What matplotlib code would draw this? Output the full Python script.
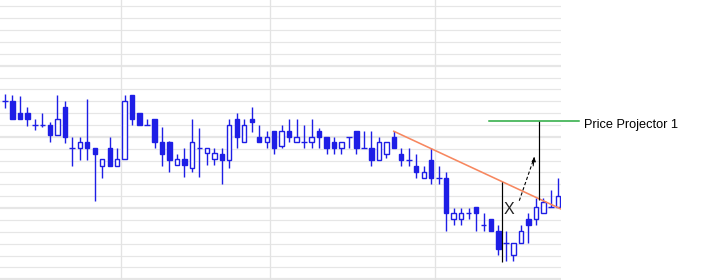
import numpy as np
import matplotlib
matplotlib.use("Agg")
import matplotlib.pyplot as plt

# price data (one grid step = 1 unit)
opens = [15.02, 15.02, 14.01, 14.01, 12.97, 12.97, 13.00, 12.13, 14.52, 11.06,
         11.04, 11.54, 11.06, 9.57, 11.06, 9.57, 10.11, 15.53, 14.01, 12.97,
         13.50, 11.54, 11.54, 9.60, 10.11, 9.35, 11.06, 10.61, 10.11, 10.56,
         10.03, 13.50, 11.54, 13.50, 11.96, 11.54, 12.47, 11.20, 12.47, 11.54,
         11.54, 11.54, 12.47, 11.96, 11.54, 11.04, 11.96, 12.47, 11.04, 11.04,
         10.03, 10.53, 11.96, 10.53, 10.03, 9.52, 8.51, 10.03, 8.51, 8.51,
         5.08, 5.08, 5.56, 6.07, 4.57, 5.08, 4.07, 3.06, 2.05, 3.06,
         5.08, 5.08, 5.59, 6.09, 6.09]
highs = [15.61, 15.53, 15.44, 14.52, 13.50, 14.01, 13.25, 15.53, 15.02, 11.99,
         11.99, 15.19, 11.06, 10.11, 11.99, 11.06, 15.53, 15.53, 14.01, 13.50,
         13.50, 12.83, 11.63, 10.58, 11.06, 13.50, 12.75, 11.06, 11.06, 11.06,
         13.50, 14.01, 13.50, 14.52, 13.00, 12.49, 12.49, 13.00, 13.50, 13.50,
         13.00, 13.50, 12.75, 11.96, 11.96, 11.54, 11.96, 12.47, 12.47, 12.47,
         11.96, 11.54, 12.47, 11.04, 11.04, 10.53, 9.52, 11.04, 9.52, 9.01,
         5.98, 5.98, 5.98, 6.07, 5.56, 5.08, 4.57, 4.07, 3.06, 4.57,
         5.59, 6.82, 6.82, 7.50, 8.51]
lows = [14.46, 13.48, 13.48, 12.94, 12.60, 12.81, 11.59, 12.13, 11.51, 9.57,
        10.08, 10.08, 6.62, 8.56, 9.57, 9.57, 10.11, 12.97, 12.97, 12.97,
        11.04, 9.57, 9.06, 9.60, 8.59, 9.06, 8.59, 9.60, 9.60, 8.05,
        9.40, 11.09, 11.54, 12.43, 11.54, 11.04, 10.53, 11.04, 11.54, 11.54,
        11.04, 11.04, 11.04, 10.53, 10.53, 10.53, 11.04, 10.53, 11.04, 9.52,
        10.03, 10.24, 11.04, 9.52, 9.52, 8.51, 8.51, 8.00, 8.00, 4.07,
        4.57, 4.57, 5.08, 4.07, 4.07, 4.07, 2.05, 1.54, 1.54, 3.06,
        3.06, 4.57, 5.59, 6.09, 6.09]
closes = [15.02, 13.48, 13.48, 13.48, 12.97, 12.97, 12.13, 13.50, 11.96, 11.06,
          11.54, 11.04, 10.58, 10.11, 9.57, 10.11, 15.02, 13.48, 12.97, 12.97,
          11.54, 10.58, 10.08, 10.11, 9.60, 11.54, 11.06, 11.06, 10.61, 10.03,
          12.97, 11.96, 12.97, 13.28, 11.54, 11.96, 11.04, 12.47, 11.96, 11.96,
          11.54, 11.96, 11.96, 11.04, 11.04, 11.54, 11.96, 11.04, 11.04, 10.03,
          11.54, 11.54, 11.04, 10.03, 10.03, 9.01, 9.01, 8.51, 8.51, 5.56,
          5.56, 5.56, 5.56, 5.56, 4.57, 4.07, 2.55, 3.06, 3.06, 4.07,
          4.57, 6.09, 6.49, 6.09, 6.99]

month_breaks = [15.5, 35.5, 57.5]

# drawing tools
trend_x = [52, 74.36]
trend_y = [12.47, 5.92]
proj_x = [66.51, 71.46]
proj_lo = [1.48, 6.68]
proj_hi = [8.17, 13.31]
target_x = [64.73, 76.77]
target_y = 13.31
arrow_from = (68.78, 6.62)
arrow_to = (70.79, 10.28)
x_mark = (67.45, 5.84)
label = "Price Projector 1"

blue = "#1e1ee6"
px = 0.72  # one pixel in points at dpi 100

fig = plt.figure(figsize=(7.01, 2.8), dpi=100)
ax = fig.add_axes([0, 0, 561 / 701, 1])
ax.set_xlim(-0.669, 74.36)
ax.set_ylim(-0.06, 23.53)
ax.axis("off")

# grid
for g in range(0, 24):
    lw = 2.2 * px if g % 6 == 0 else 1.2 * px
    ax.axhline(g, color="#e6e6e6", lw=lw, zorder=0)
for b in month_breaks:
    ax.axvline(b, color="#e3e3e3", lw=1.3 * px, zorder=0)

o = np.array(opens)
h = np.array(highs)
l = np.array(lows)
c = np.array(closes)
x = np.arange(len(o))

# wicks
ax.vlines(x, l, h, color=blue, lw=1.4 * px, zorder=2)

# bodies
w = 0.58
up = c > o
down = c < o
flat = c == o
ax.bar(x[up], (c - o)[up], bottom=o[up], width=w, facecolor="white",
       edgecolor=blue, lw=1.4 * px, zorder=3)
ax.bar(x[down], (o - c)[down], bottom=c[down], width=w, facecolor=blue,
       edgecolor=blue, lw=1.4 * px, zorder=3)
ax.hlines(o[flat], x[flat] - 0.38, x[flat] + 0.38, color=blue, lw=1.4 * px, zorder=3)

# trendline and projector
ax.plot(trend_x, trend_y, color="#f7875f", lw=1.6 * px, zorder=4)
ax.vlines(proj_x, proj_lo, proj_hi, color="black", lw=1.2 * px, zorder=5)
ax.plot(target_x, [target_y, target_y], color="#22a83a", lw=1.5 * px,
        zorder=5, clip_on=False)
ax.text(77.43, 12.72, label, fontsize=9.2, family="Liberation Sans",
        va="baseline", ha="left", color="black", clip_on=False)

ax.plot([arrow_from[0], arrow_to[0]], [arrow_from[1], arrow_to[1]],
        color="black", lw=1.1 * px, ls=(0, (3, 2)), zorder=5)
ax.annotate("", xy=arrow_to,
            xytext=(arrow_to[0] - 0.15, arrow_to[1] - 0.73),
            arrowprops=dict(arrowstyle="-|>", color="black", lw=1.0 * px,
                            mutation_scale=6, shrinkA=0, shrinkB=0),
            zorder=5)
ax.text(x_mark[0], x_mark[1], "X", fontsize=11.5, family="Liberation Sans",
        ha="center", va="center", color="#222222", zorder=5)

fig.savefig("out.png", dpi=100)
